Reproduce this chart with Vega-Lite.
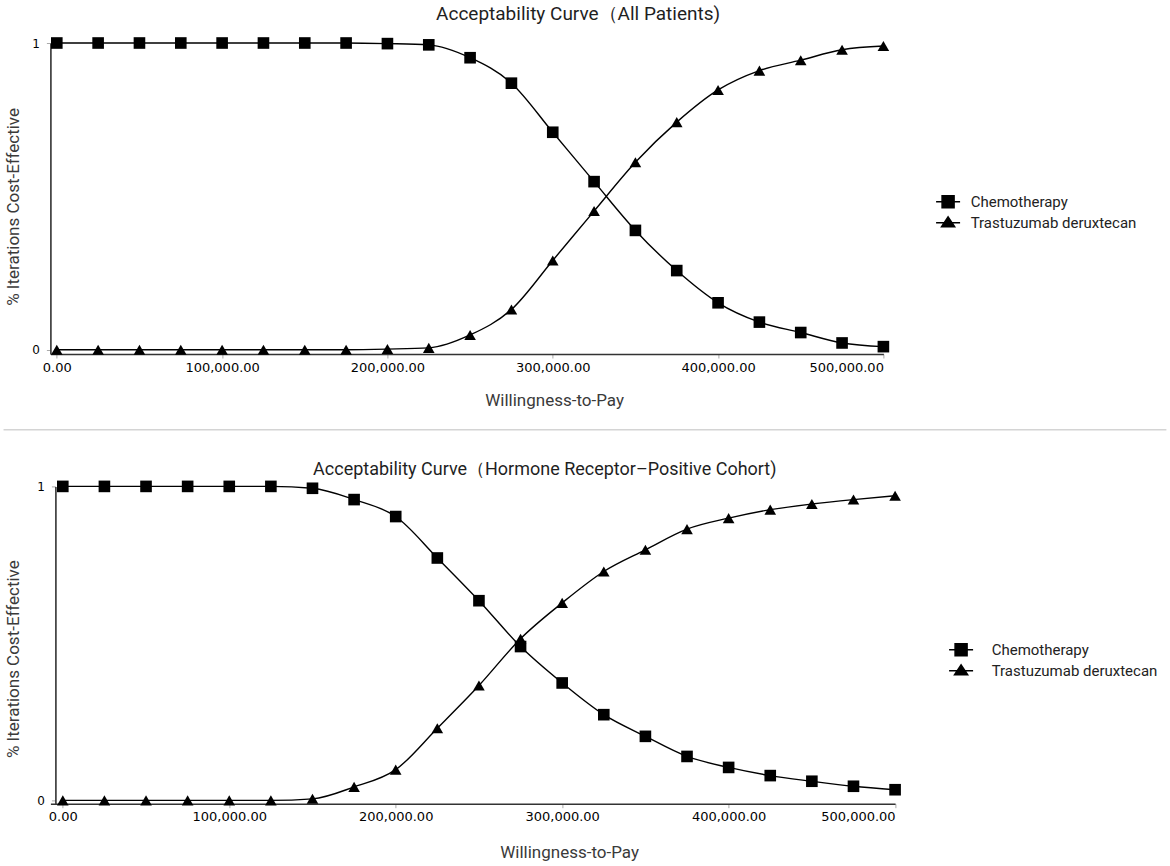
{
  "$schema": "https://vega.github.io/schema/vega-lite/v6.json",
  "description": "Cost-effectiveness acceptability curves, chemotherapy vs trastuzumab deruxtecan.",
  "background": "white",
  "padding": {"left": 2.4, "top": 5, "right": 5, "bottom": 5},
  "bounds": "flush",
  "spacing": 56.7,
  "config": {
    "font": "Roboto",
    "view": {"stroke": null},
    "title": {"font": "Roboto", "fontSize": 19, "fontWeight": "normal", "color": "#1f1f1f", "anchor": "start", "frame": "group"},
    "axis": {
      "grid": false,
      "domainColor": "#333",
      "domainWidth": 1.6,
      "tickColor": "#aaa",
      "tickSize": 4,
      "labelFont": "DejaVu Sans",
      "labelColor": "#000",
      "titleFont": "Roboto",
      "titleFontSize": 17,
      "titleFontWeight": "normal",
      "titleColor": "#3a3a3a"
    },
    "axisX": {"labelFontSize": 13, "labelPadding": 3, "titlePadding": 18},
    "axisY": {"labelFontSize": 12, "labelPadding": 7},
    "legend": {
      "title": null,
      "orient": "none",
      "symbolSize": 256,
      "labelFont": "Roboto",
      "labelFontSize": 15,
      "labelColor": "#222",
      "labelLimit": 0,
      "rowPadding": 3,
      "padding": 0
    }
  },
  "datasets": {
    "all": [
      {"wtp": 0, "strategy": "Chemotherapy", "share": 1},
      {"wtp": 25000, "strategy": "Chemotherapy", "share": 1},
      {"wtp": 50000, "strategy": "Chemotherapy", "share": 1},
      {"wtp": 75000, "strategy": "Chemotherapy", "share": 1},
      {"wtp": 100000, "strategy": "Chemotherapy", "share": 1},
      {"wtp": 125000, "strategy": "Chemotherapy", "share": 1},
      {"wtp": 150000, "strategy": "Chemotherapy", "share": 1},
      {"wtp": 175000, "strategy": "Chemotherapy", "share": 1},
      {"wtp": 200000, "strategy": "Chemotherapy", "share": 0.998},
      {"wtp": 225000, "strategy": "Chemotherapy", "share": 0.994},
      {"wtp": 250000, "strategy": "Chemotherapy", "share": 0.952},
      {"wtp": 275000, "strategy": "Chemotherapy", "share": 0.869},
      {"wtp": 300000, "strategy": "Chemotherapy", "share": 0.709},
      {"wtp": 325000, "strategy": "Chemotherapy", "share": 0.548},
      {"wtp": 350000, "strategy": "Chemotherapy", "share": 0.389},
      {"wtp": 375000, "strategy": "Chemotherapy", "share": 0.258},
      {"wtp": 400000, "strategy": "Chemotherapy", "share": 0.153},
      {"wtp": 425000, "strategy": "Chemotherapy", "share": 0.09},
      {"wtp": 450000, "strategy": "Chemotherapy", "share": 0.056},
      {"wtp": 475000, "strategy": "Chemotherapy", "share": 0.022},
      {"wtp": 500000, "strategy": "Chemotherapy", "share": 0.01},
      {"wtp": 0, "strategy": "Trastuzumab deruxtecan", "share": 0},
      {"wtp": 25000, "strategy": "Trastuzumab deruxtecan", "share": 0},
      {"wtp": 50000, "strategy": "Trastuzumab deruxtecan", "share": 0},
      {"wtp": 75000, "strategy": "Trastuzumab deruxtecan", "share": 0},
      {"wtp": 100000, "strategy": "Trastuzumab deruxtecan", "share": 0},
      {"wtp": 125000, "strategy": "Trastuzumab deruxtecan", "share": 0},
      {"wtp": 150000, "strategy": "Trastuzumab deruxtecan", "share": 0},
      {"wtp": 175000, "strategy": "Trastuzumab deruxtecan", "share": 0},
      {"wtp": 200000, "strategy": "Trastuzumab deruxtecan", "share": 0.002},
      {"wtp": 225000, "strategy": "Trastuzumab deruxtecan", "share": 0.006},
      {"wtp": 250000, "strategy": "Trastuzumab deruxtecan", "share": 0.048},
      {"wtp": 275000, "strategy": "Trastuzumab deruxtecan", "share": 0.131},
      {"wtp": 300000, "strategy": "Trastuzumab deruxtecan", "share": 0.291},
      {"wtp": 325000, "strategy": "Trastuzumab deruxtecan", "share": 0.452},
      {"wtp": 350000, "strategy": "Trastuzumab deruxtecan", "share": 0.611},
      {"wtp": 375000, "strategy": "Trastuzumab deruxtecan", "share": 0.742},
      {"wtp": 400000, "strategy": "Trastuzumab deruxtecan", "share": 0.847},
      {"wtp": 425000, "strategy": "Trastuzumab deruxtecan", "share": 0.91},
      {"wtp": 450000, "strategy": "Trastuzumab deruxtecan", "share": 0.944},
      {"wtp": 475000, "strategy": "Trastuzumab deruxtecan", "share": 0.978},
      {"wtp": 500000, "strategy": "Trastuzumab deruxtecan", "share": 0.99}
    ],
    "hr": [
      {"wtp": 0, "strategy": "Chemotherapy", "share": 1},
      {"wtp": 25000, "strategy": "Chemotherapy", "share": 1},
      {"wtp": 50000, "strategy": "Chemotherapy", "share": 1},
      {"wtp": 75000, "strategy": "Chemotherapy", "share": 1},
      {"wtp": 100000, "strategy": "Chemotherapy", "share": 1},
      {"wtp": 125000, "strategy": "Chemotherapy", "share": 1},
      {"wtp": 150000, "strategy": "Chemotherapy", "share": 0.994},
      {"wtp": 175000, "strategy": "Chemotherapy", "share": 0.958},
      {"wtp": 200000, "strategy": "Chemotherapy", "share": 0.904},
      {"wtp": 225000, "strategy": "Chemotherapy", "share": 0.772},
      {"wtp": 250000, "strategy": "Chemotherapy", "share": 0.636},
      {"wtp": 275000, "strategy": "Chemotherapy", "share": 0.49},
      {"wtp": 300000, "strategy": "Chemotherapy", "share": 0.374},
      {"wtp": 325000, "strategy": "Chemotherapy", "share": 0.273},
      {"wtp": 350000, "strategy": "Chemotherapy", "share": 0.204},
      {"wtp": 375000, "strategy": "Chemotherapy", "share": 0.14},
      {"wtp": 400000, "strategy": "Chemotherapy", "share": 0.105},
      {"wtp": 425000, "strategy": "Chemotherapy", "share": 0.079},
      {"wtp": 450000, "strategy": "Chemotherapy", "share": 0.061},
      {"wtp": 475000, "strategy": "Chemotherapy", "share": 0.045},
      {"wtp": 500000, "strategy": "Chemotherapy", "share": 0.034},
      {"wtp": 0, "strategy": "Trastuzumab deruxtecan", "share": 0},
      {"wtp": 25000, "strategy": "Trastuzumab deruxtecan", "share": 0},
      {"wtp": 50000, "strategy": "Trastuzumab deruxtecan", "share": 0},
      {"wtp": 75000, "strategy": "Trastuzumab deruxtecan", "share": 0},
      {"wtp": 100000, "strategy": "Trastuzumab deruxtecan", "share": 0},
      {"wtp": 125000, "strategy": "Trastuzumab deruxtecan", "share": 0},
      {"wtp": 150000, "strategy": "Trastuzumab deruxtecan", "share": 0.005},
      {"wtp": 175000, "strategy": "Trastuzumab deruxtecan", "share": 0.043},
      {"wtp": 200000, "strategy": "Trastuzumab deruxtecan", "share": 0.098},
      {"wtp": 225000, "strategy": "Trastuzumab deruxtecan", "share": 0.23},
      {"wtp": 250000, "strategy": "Trastuzumab deruxtecan", "share": 0.366},
      {"wtp": 275000, "strategy": "Trastuzumab deruxtecan", "share": 0.515},
      {"wtp": 300000, "strategy": "Trastuzumab deruxtecan", "share": 0.629},
      {"wtp": 325000, "strategy": "Trastuzumab deruxtecan", "share": 0.729},
      {"wtp": 350000, "strategy": "Trastuzumab deruxtecan", "share": 0.798},
      {"wtp": 375000, "strategy": "Trastuzumab deruxtecan", "share": 0.864},
      {"wtp": 400000, "strategy": "Trastuzumab deruxtecan", "share": 0.899},
      {"wtp": 425000, "strategy": "Trastuzumab deruxtecan", "share": 0.926},
      {"wtp": 450000, "strategy": "Trastuzumab deruxtecan", "share": 0.944},
      {"wtp": 475000, "strategy": "Trastuzumab deruxtecan", "share": 0.958},
      {"wtp": 500000, "strategy": "Trastuzumab deruxtecan", "share": 0.97}
    ]
  },
  "vconcat": [
    {
      "width": 833,
      "height": 311,
      "title": {"text": "Acceptability Curve（All Patients)", "dx": 385.7, "offset": 13},
      "data": {"name": "all"},
      "encoding": {
        "x": {
          "field": "wtp",
          "type": "quantitative",
          "scale": {"domain": [-3870, 500000], "nice": false, "zero": false},
          "axis": {
            "values": [0, 100000, 200000, 300000, 400000, 500000],
            "format": ",.2f",
            "title": "Willingness-to-Pay",
            "titleX": 503.7
          }
        },
        "y": {
          "field": "share",
          "type": "quantitative",
          "scale": {"domain": [-0.014, 1], "nice": false},
          "axis": {
            "values": [0, 1],
            "format": "d",
            "title": "% Iterations Cost-Effective",
            "titleY": 163.4,
            "titlePadding": 9
          }
        }
      },
      "layer": [
        {
          "mark": {"type": "line", "interpolate": "monotone", "color": "black", "strokeWidth": 1.4},
          "encoding": {"detail": {"field": "strategy"}}
        },
        {
          "mark": {"type": "point", "filled": true, "opacity": 1, "color": "black", "size": 135},
          "encoding": {
            "shape": {
              "field": "strategy",
              "type": "nominal",
              "scale": {"domain": ["Chemotherapy", "Trastuzumab deruxtecan"], "range": ["square", "triangle-up"]},
              "legend": null
            }
          }
        },
        {
          "transform": [{"filter": "false"}],
          "mark": {"type": "point", "filled": true, "opacity": 1, "color": "black", "stroke": "black", "strokeWidth": 1.5},
          "encoding": {
            "shape": {
              "field": "strategy",
              "type": "nominal",
              "scale": {
                "domain": ["Chemotherapy", "Trastuzumab deruxtecan"],
                "range": ["M-1.5,0H1.5M-0.75,-0.75H0.75V0.75H-0.75Z", "M-1.5,0H1.5M0,-0.72L0.82,0.52H-0.82Z"]
              },
              "legend": {
                "legendX": 888.7,
                "legendY": 149.7,
                "labelOffset": 13.6,
                "encode": {
                  "symbols": {
                    "update": {
                      "fill": {"value": "black"},
                      "stroke": {"value": "black"},
                      "strokeWidth": {"value": 1.5},
                      "opacity": {"value": 1}
                    }
                  }
                }
              }
            }
          }
        }
      ],
      "resolve": {"scale": {"shape": "independent"}, "legend": {"shape": "independent"}}
    },
    {
      "width": 1116,
      "height": 19,
      "data": {"values": [{"line": "separator"}]},
      "mark": {"type": "rule", "color": "#d4d4d4", "strokeWidth": 1.5, "clip": false},
      "encoding": {
        "x": {"datum": -0.042, "type": "quantitative", "scale": {"domain": [0, 1]}, "axis": null},
        "x2": {"datum": 1},
        "y": {"datum": 0, "type": "quantitative", "scale": {"domain": [0, 1]}, "axis": null}
      }
    },
    {
      "width": 844.7,
      "height": 317.3,
      "title": {"text": "Acceptability Curve（Hormone Receptor–Positive Cohort)", "dx": 262.7, "offset": 1, "fontSize": 18},
      "data": {"name": "hr"},
      "encoding": {
        "x": {
          "field": "wtp",
          "type": "quantitative",
          "scale": {"domain": [-7450, 500000], "nice": false, "zero": false},
          "axis": {
            "values": [0, 100000, 200000, 300000, 400000, 500000],
            "format": ",.2f",
            "title": "Willingness-to-Pay",
            "titleX": 518.7,
            "titlePadding": 21
          }
        },
        "y": {
          "field": "share",
          "type": "quantitative",
          "scale": {"domain": [-0.0105, 1], "nice": false},
          "axis": {
            "values": [0, 1],
            "format": "d",
            "offset": -5,
            "title": "% Iterations Cost-Effective",
            "titleY": 172.3,
            "titlePadding": 14
          }
        }
      },
      "layer": [
        {
          "mark": {"type": "line", "interpolate": "monotone", "color": "black", "strokeWidth": 1.4},
          "encoding": {"detail": {"field": "strategy"}}
        },
        {
          "mark": {"type": "point", "filled": true, "opacity": 1, "color": "black", "size": 135},
          "encoding": {
            "shape": {
              "field": "strategy",
              "type": "nominal",
              "scale": {"domain": ["Chemotherapy", "Trastuzumab deruxtecan"], "range": ["square", "triangle-up"]},
              "legend": null
            }
          }
        },
        {
          "transform": [{"filter": "false"}],
          "mark": {"type": "point", "filled": true, "opacity": 1, "color": "black", "stroke": "black", "strokeWidth": 1.5},
          "encoding": {
            "shape": {
              "field": "strategy",
              "type": "nominal",
              "scale": {
                "domain": ["Chemotherapy", "Trastuzumab deruxtecan"],
                "range": ["M-1.5,0H1.5M-0.75,-0.75H0.75V0.75H-0.75Z", "M-1.5,0H1.5M0,-0.72L0.82,0.52H-0.82Z"]
              },
              "legend": {
                "legendX": 901.7,
                "legendY": 154.3,
                "labelOffset": 21.6,
                "encode": {
                  "symbols": {
                    "update": {
                      "fill": {"value": "black"},
                      "stroke": {"value": "black"},
                      "strokeWidth": {"value": 1.5},
                      "opacity": {"value": 1}
                    }
                  }
                }
              }
            }
          }
        }
      ],
      "resolve": {"scale": {"shape": "independent"}, "legend": {"shape": "independent"}}
    }
  ],
  "resolve": {"scale": {"shape": "independent", "x": "independent", "y": "independent"}}
}
